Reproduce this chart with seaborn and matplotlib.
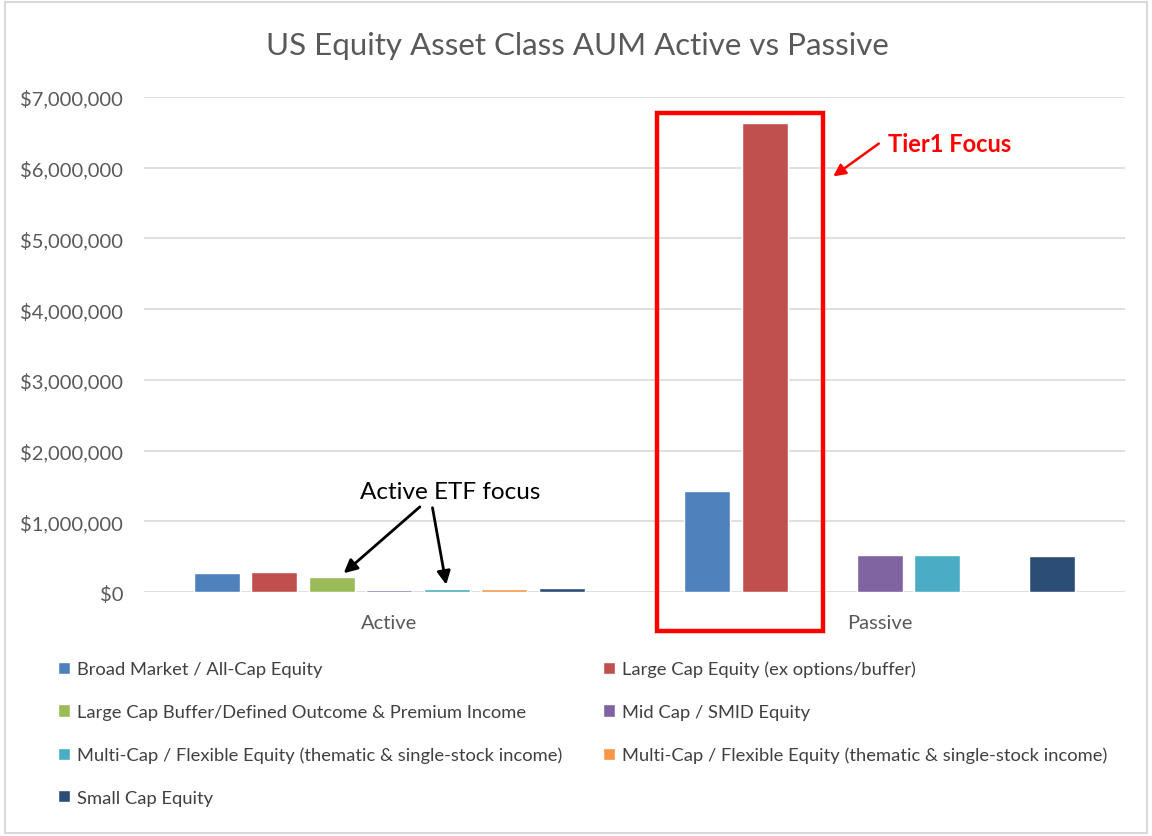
import numpy as np
import pandas as pd
import matplotlib
matplotlib.use('Agg')
import matplotlib.pyplot as plt
from matplotlib.patches import Rectangle
import seaborn as sns

# data
categories = ['Active', 'Passive']
series_labels = [
    'Broad Market / All-Cap Equity',
    'Large Cap Equity (ex options/buffer)',
    'Large Cap Buffer/Defined Outcome & Premium Income',
    'Mid Cap / SMID Equity',
    'Multi-Cap / Flexible Equity (thematic & single-stock income)',
    'Multi-Cap / Flexible Equity (thematic & single-stock income)',
    'Small Cap Equity',
]
active_aum = [265000, 285000, 215000, 25000, 40000, 38000, 58000]
passive_aum = [1430000, 6630000, np.nan, 520000, 520000, np.nan, 510000]
series_colors = ['#4F81BD', '#C0504D', '#9BBB59', '#8064A2', '#4BACC6', '#F79646', '#2C4D75']

series_keys = [f's{i}' for i in range(len(series_labels))]
rows = []
for key, a, p in zip(series_keys, active_aum, passive_aum):
    rows.append({'category': 'Active', 'series': key, 'aum': a})
    rows.append({'category': 'Passive', 'series': key, 'aum': p})
df = pd.DataFrame(rows)

sns.set_style('white')
plt.rcParams['font.family'] = ['Lato', 'DejaVu Sans']

fig = plt.figure(figsize=(11.52, 8.37), dpi=100)
ax = fig.add_axes([0.125, 0.2915, 0.8516, 0.5915])

sns.barplot(data=df, x='category', y='aum', hue='series', order=categories,
            hue_order=series_keys, palette=dict(zip(series_keys, series_colors)),
            width=0.82, gap=0.2, errorbar=None, saturation=1, ax=ax, legend=True)

ax.set_xlim(-0.5, 1.5)
ax.set_ylim(0, 7000000)
ax.set_yticks(np.arange(0, 7000001, 1000000))
ax.yaxis.set_major_formatter(matplotlib.ticker.FuncFormatter(lambda v, _: f'${v:,.0f}'))
ax.grid(axis='y', color='#D9D9D9', linewidth=1.2)
ax.set_axisbelow(True)
for s in ax.spines.values():
    s.set_visible(False)
ax.tick_params(axis='both', length=0, labelsize=14.5, labelcolor='#595959')
ax.tick_params(axis='y', pad=15)
ax.tick_params(axis='x', pad=16)
ax.set_xlabel('')
ax.set_ylabel('')

fig.suptitle('US Equity Asset Class AUM Active vs Passive', x=0.501, y=0.962,
             fontsize=22.5, color='#595959')

# legend: Excel fills row-wise, matplotlib column-wise
handles, _ = ax.get_legend_handles_labels()
ax.get_legend().remove()
order = [0, 2, 4, 6, 1, 3, 5]
fig.legend([handles[i] for i in order], [series_labels[i] for i in order],
           ncol=2, loc='upper left', bbox_to_anchor=(0.036, 0.229),
           frameon=False, fontsize=13.2, labelcolor='#404040',
           handlelength=0.65, handleheight=0.65, handletextpad=0.4,
           labelspacing=1.45, columnspacing=2.2)

# annotations
fig.add_artist(Rectangle((657 / 1152, 1 - 632 / 837), 166 / 1152, 518 / 837,
                         transform=fig.transFigure, fill=False,
                         edgecolor='#FF0000', linewidth=3.2))
fig.text(888 / 1152, 1 - 145 / 837, 'Tier1 Focus', color='#FF0000',
         fontsize=17, fontweight='bold', va='center', ha='left')
ax.annotate('', xy=(831 / 1152, 1 - 179 / 837), xycoords='figure fraction',
            xytext=(881 / 1152, 1 - 143 / 837), textcoords='figure fraction',
            arrowprops=dict(arrowstyle='-|>', color='#FF0000', lw=1.8, mutation_scale=18))

fig.text(450 / 1152, 1 - 493 / 837, 'Active ETF focus', color='black',
         fontsize=17.5, va='center', ha='center')
green_bar = ax.containers[2][0]
cyan_bar = ax.containers[4][0]
for bar, start, dx in [(green_bar, (422, 506), 0.02), (cyan_bar, (432, 506), 0.0)]:
    tx = bar.get_x() + bar.get_width() / 2 + dx
    ty = bar.get_height() + 25000
    ax.annotate('', xy=(tx, ty), xycoords='data',
                xytext=(start[0] / 1152, 1 - start[1] / 837), textcoords='figure fraction',
                arrowprops=dict(arrowstyle='-|>', color='black', lw=2, mutation_scale=20))

# chart border
fig.add_artist(Rectangle((0.004, 0.004), 0.992, 0.992, transform=fig.transFigure,
                         fill=False, edgecolor='#D9D9D9', linewidth=1.5))

fig.savefig('out.png', dpi=100)
